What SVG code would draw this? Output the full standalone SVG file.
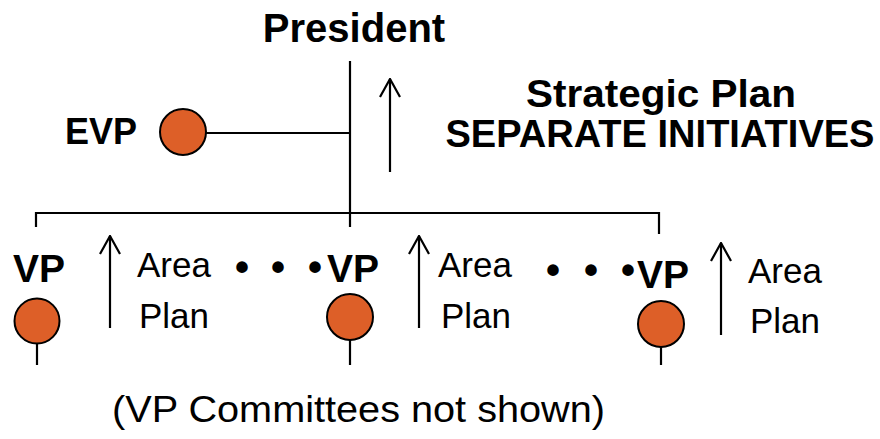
<svg xmlns="http://www.w3.org/2000/svg" width="880" height="439" viewBox="0 0 880 439">
  <style>
    .ln { stroke: #000; stroke-width: 2.2; fill: none; }
    .node { fill: #DD5F28; stroke: #000; stroke-width: 2; }
    .b { font-family: "Liberation Sans", Arial, sans-serif; font-weight: bold; fill: #000; }
    .r { font-family: "Liberation Sans", Arial, sans-serif; fill: #000; }
    .arr { stroke: #000; stroke-width: 2.2; fill: none; marker-end: url(#open); }
  </style>
  <defs>
    <!-- open V arrowhead, drawn along +x so orient="auto" follows the line -->
    <marker id="open" viewBox="0 0 20 22" refX="19" refY="11" markerWidth="20" markerHeight="22" markerUnits="userSpaceOnUse" orient="auto">
      <path d="M1,1 L19,11 L1,21" fill="none" stroke="#000" stroke-width="2.2"/>
    </marker>
  </defs>

  <!-- connectors: reporting lines -->
  <g id="connectors">
    <line class="ln" x1="350" y1="61" x2="350" y2="227"/>
    <line class="ln" x1="206" y1="133" x2="350" y2="133"/>
    <polyline class="ln" points="36,227 36,213 659,213 659,234"/>
    <line class="ln" x1="37" y1="343" x2="37" y2="365"/>
    <line class="ln" x1="350" y1="340" x2="350" y2="365"/>
    <line class="ln" x1="661" y1="347" x2="661" y2="365"/>
  </g>

  <!-- upward plan arrows -->
  <g id="arrows">
    <line class="arr" x1="390" y1="172" x2="390" y2="79"/>
    <line class="arr" x1="110" y1="328" x2="110" y2="236"/>
    <line class="arr" x1="419" y1="328" x2="419" y2="236"/>
    <line class="arr" x1="721" y1="335" x2="721" y2="243"/>
  </g>

  <g id="president">
    <text class="b" x="354" y="42" font-size="40" text-anchor="middle">President</text>
  </g>

  <g id="strategic">
    <text class="b" x="661" y="107" font-size="38" text-anchor="middle" textLength="270" lengthAdjust="spacingAndGlyphs">Strategic Plan</text>
    <text class="b" x="660" y="147" font-size="38" text-anchor="middle" textLength="429" lengthAdjust="spacingAndGlyphs">SEPARATE INITIATIVES</text>
  </g>

  <g id="evp">
    <text class="b" x="65" y="144" font-size="36">EVP</text>
    <circle class="node" cx="183" cy="132" r="23"/>
  </g>

  <g id="vp1">
    <text class="b" x="13" y="282" font-size="39">VP</text>
    <circle class="node" cx="37" cy="321" r="22.5"/>
    <text class="r" x="137" y="277" font-size="35">Area</text>
    <text class="r" x="139" y="328" font-size="35">Plan</text>
  </g>

  <g id="vp2">
    <text class="b" font-size="40" y="281" text-anchor="middle"><tspan x="242">•</tspan><tspan x="278">•</tspan><tspan x="315">•</tspan></text>
    <text class="b" x="327" y="282" font-size="39">VP</text>
    <circle class="node" cx="350" cy="317" r="23"/>
    <text class="r" x="438" y="277" font-size="35">Area</text>
    <text class="r" x="441" y="328" font-size="35">Plan</text>
  </g>

  <g id="vp3">
    <text class="b" font-size="40" y="284" text-anchor="middle"><tspan x="553">•</tspan><tspan x="591">•</tspan><tspan x="628">•</tspan></text>
    <text class="b" x="637" y="288" font-size="39">VP</text>
    <circle class="node" cx="661" cy="324" r="23"/>
    <text class="r" x="748" y="283" font-size="35">Area</text>
    <text class="r" x="750" y="333" font-size="35">Plan</text>
  </g>

  <g id="note">
    <text class="r" x="112" y="422" font-size="37" textLength="493" lengthAdjust="spacingAndGlyphs">(VP Committees not shown)</text>
  </g>
</svg>
